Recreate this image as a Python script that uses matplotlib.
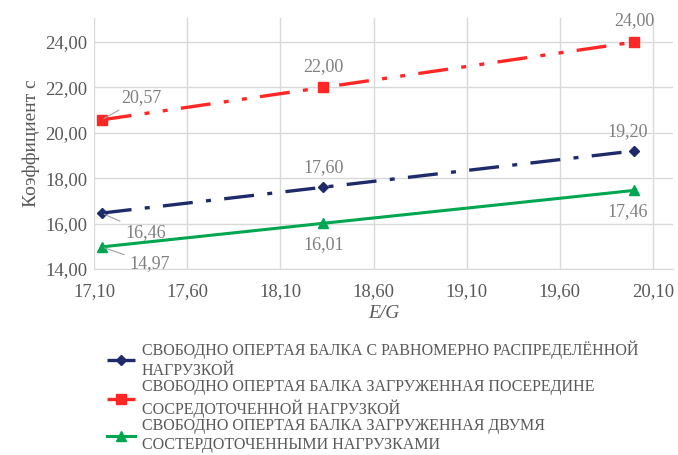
import matplotlib.pyplot as plt

plt.rcParams['font.family'] = ['Liberation Serif', 'DejaVu Serif']

# E/G values and coefficient c for the three loading cases
eg = [17.14, 18.33, 20.00]
c_uniform = [16.46, 17.60, 19.20]
c_center = [20.57, 22.00, 24.00]
c_two = [14.97, 16.01, 17.46]

labels = [
    'СВОБОДНО ОПЕРТАЯ БАЛКА С РАВНОМЕРНО РАСПРЕДЕЛЁННОЙ\nНАГРУЗКОЙ',
    'СВОБОДНО ОПЕРТАЯ БАЛКА ЗАГРУЖЕННАЯ ПОСЕРЕДИНЕ\nСОСРЕДОТОЧЕННОЙ НАГРУЗКОЙ',
    'СВОБОДНО ОПЕРТАЯ БАЛКА ЗАГРУЖЕННАЯ ДВУМЯ\nСОСТЕРДОТОЧЕННЫМИ НАГРУЗКАМИ',
]
xticks = [17.10, 17.60, 18.10, 18.60, 19.10, 19.60, 20.10]
yticks = [14, 16, 18, 20, 22, 24]

fig = plt.figure(figsize=(6.78, 4.55), dpi=100)
ax = fig.add_axes([0.139, 0.409, 0.854, 0.551])

blue = '#1f2a6b'
red = '#ff2626'
green = '#00a650'
txt = '#7f7f7f'

ax.plot(eg, c_uniform, color=blue, lw=2.4, dashes=(9, 4, 1.5, 4),
        marker='D', ms=5, label=labels[0])
ax.plot(eg, c_center, color=red, lw=2.4, dashes=(9, 4, 1.5, 4, 1.5, 4),
        marker='s', ms=7, label=labels[1])
ax.plot(eg, c_two, color=green, lw=2.2, marker='^', ms=7, label=labels[2])

def fmt(v):
    return f'{v:.2f}'.replace('.', ',')

lab = dict(fontsize=13, color=txt)
# red series: labels above
ax.annotate(fmt(c_center[0]), (eg[0], c_center[0]), xytext=(14, 10),
            textcoords='offset points', va='bottom', ha='left',
            arrowprops=dict(arrowstyle='-', color='#a0a0a0', lw=0.8), **lab)
ax.annotate(fmt(c_center[1]), (eg[1], c_center[1]), xytext=(0, 9),
            textcoords='offset points', va='bottom', ha='center', **lab)
ax.annotate(fmt(c_center[2]), (eg[2], c_center[2]), xytext=(0, 9),
            textcoords='offset points', va='bottom', ha='center', **lab)
# blue series
ax.annotate(fmt(c_uniform[0]), (eg[0], c_uniform[0]), xytext=(17, -14),
            textcoords='offset points', va='center', ha='left',
            arrowprops=dict(arrowstyle='-', color='#a0a0a0', lw=0.8), **lab)
ax.annotate(fmt(c_uniform[1]), (eg[1], c_uniform[1]), xytext=(0, 8),
            textcoords='offset points', va='bottom', ha='center', **lab)
ax.annotate(fmt(c_uniform[2]), (eg[2], c_uniform[2]), xytext=(-5, 8),
            textcoords='offset points', va='bottom', ha='center', **lab)
# green series
ax.annotate(fmt(c_two[0]), (eg[0], c_two[0]), xytext=(20, -12),
            textcoords='offset points', va='center', ha='left',
            arrowprops=dict(arrowstyle='-', color='#a0a0a0', lw=0.8), **lab)
ax.annotate(fmt(c_two[1]), (eg[1], c_two[1]), xytext=(0, -9),
            textcoords='offset points', va='top', ha='center', **lab)
ax.annotate(fmt(c_two[2]), (eg[2], c_two[2]), xytext=(-5, -9),
            textcoords='offset points', va='top', ha='center', **lab)

ax.set_xlim(17.10, 20.21)
ax.set_ylim(14, 25.05)
ax.set_xticks(xticks)
ax.set_yticks(yticks)
ax.set_xticklabels([fmt(v) for v in xticks])
ax.set_yticklabels([fmt(v) for v in yticks])
ax.tick_params(length=0, labelsize=13.5, colors='#595959')
ax.tick_params(axis='x', pad=10)
ax.tick_params(axis='y', pad=5)
ax.grid(True, color='#d9d9d9', lw=1)
ax.set_axisbelow(True)
for s in ['top', 'right', 'left']:
    ax.spines[s].set_visible(False)
ax.spines['bottom'].set_color('#d9d9d9')

ax.set_xlabel('E/G', fontsize=14, style='italic', color='#595959', labelpad=4)
ax.set_ylabel('Коэффициент с', fontsize=14, color='#595959', labelpad=4)

leg = fig.legend(loc='upper left', bbox_to_anchor=(0.143, 0.272), frameon=False,
                 fontsize=11.5, labelcolor='#595959', handlelength=1.8,
                 handletextpad=0.4, labelspacing=0.0, borderaxespad=0.2)
for t in leg.get_texts():
    t.set_linespacing(1.3)

fig.savefig('out.png', dpi=100)
